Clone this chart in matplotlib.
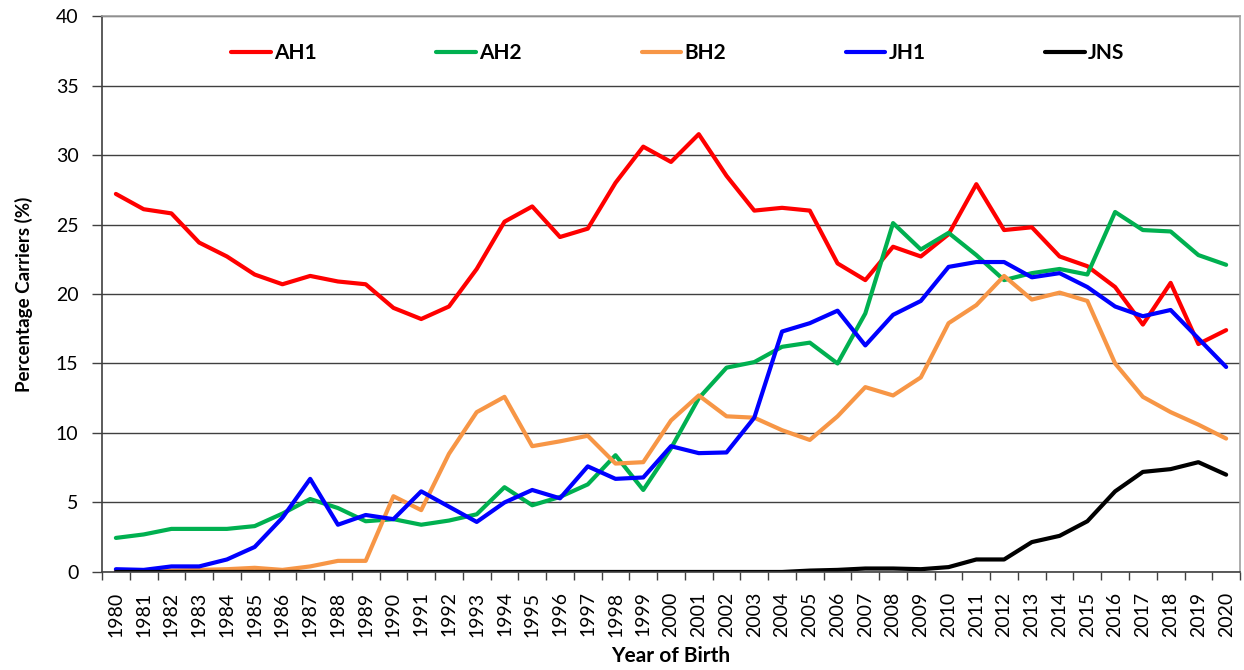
import matplotlib
matplotlib.use("Agg")
import matplotlib.pyplot as plt
import numpy as np

years = list(range(1980, 2021))

ah1 = [27.2, 26.1, 25.8, 23.7, 22.7, 21.4, 20.7, 21.3, 20.9, 20.7,
       19.0, 18.2, 19.1, 21.8, 25.2, 26.3, 24.1, 24.7, 28.0, 30.6,
       29.5, 31.5, 28.5, 26.0, 26.2, 26.0, 22.2, 21.0, 23.4, 22.7,
       24.3, 27.9, 24.6, 24.8, 22.7, 22.0, 20.5, 17.8, 20.8, 16.4,
       17.4]
ah2 = [2.45, 2.7, 3.1, 3.1, 3.1, 3.3, 4.2, 5.25, 4.6, 3.65,
       3.8, 3.4, 3.7, 4.15, 6.1, 4.8, 5.4, 6.3, 8.4, 5.9,
       8.9, 12.5, 14.7, 15.1, 16.2, 16.5, 15.0, 18.6, 25.1, 23.2,
       24.4, 22.8, 21.0, 21.5, 21.8, 21.4, 25.9, 24.6, 24.5, 22.8,
       22.1]
bh2 = [0.1, 0.1, 0.1, 0.15, 0.2, 0.3, 0.15, 0.4, 0.8, 0.8,
       5.45, 4.45, 8.5, 11.5, 12.6, 9.05, 9.4, 9.8, 7.8, 7.9,
       10.9, 12.7, 11.2, 11.1, 10.2, 9.5, 11.2, 13.3, 12.7, 14.0,
       17.9, 19.2, 21.3, 19.6, 20.1, 19.5, 15.0, 12.6, 11.5, 10.6,
       9.6]
jh1 = [0.2, 0.15, 0.4, 0.4, 0.9, 1.8, 3.9, 6.7, 3.4, 4.1,
       3.8, 5.8, 4.7, 3.6, 5.0, 5.9, 5.3, 7.6, 6.7, 6.8,
       9.05, 8.55, 8.6, 11.1, 17.3, 17.9, 18.8, 16.3, 18.5, 19.5,
       21.95, 22.3, 22.3, 21.2, 21.5, 20.5, 19.1, 18.4, 18.85, 16.8,
       14.75]
jns = [0, 0, 0, 0, 0, 0, 0, 0, 0, 0,
       0, 0, 0, 0, 0, 0, 0, 0, 0, 0,
       0, 0, 0, 0, 0.0, 0.1, 0.15, 0.25, 0.25, 0.2,
       0.35, 0.9, 0.9, 2.15, 2.6, 3.65, 5.8, 7.2, 7.4, 7.9,
       7.0]

series = [("AH1", ah1, "#ff0000"), ("AH2", ah2, "#00b050"),
          ("BH2", bh2, "#f79646"), ("JH1", jh1, "#0000ff"),
          ("JNS", jns, "#000000")]

plt.rcParams['font.family'] = ['Lato', 'DejaVu Sans']

fig = plt.figure(figsize=(12.44, 6.70), dpi=100)
ax = fig.add_axes([0.082, 0.1463, 0.9148, 0.8298])

x = np.arange(len(years))
for name, vals, color in series:
    ax.plot(x, vals, color=color, lw=3, label=name, solid_joinstyle='round',
            solid_capstyle='round')

ax.set_xlim(-0.5, len(years) - 0.5)
ax.set_ylim(0, 40)
ax.set_yticks(range(0, 41, 5))
ax.yaxis.grid(True, color='#404040', lw=1)
ax.set_axisbelow(True)

# category axis: labels in the middle, tick marks between categories
ax.set_xticks(x)
ax.set_xticklabels([str(y) for y in years], rotation=90)
ax.set_xticks(np.arange(-0.5, len(years)), minor=True)
ax.tick_params(axis='x', which='major', length=0, pad=14, labelsize=14)
ax.tick_params(axis='x', which='minor', length=6, width=1, color='#404040',
               direction='out')
ax.tick_params(axis='y', length=7, width=1, color='#404040', labelsize=14,
               pad=10)

for side in ['left', 'bottom']:
    ax.spines[side].set_color('#404040')
    ax.spines[side].set_linewidth(1.2)
for side in ['top', 'right']:
    ax.spines[side].set_color('#a0a0a0')
    ax.spines[side].set_linewidth(1.2)

ax.set_xlabel("Year of Birth", fontsize=15, fontweight='bold')
ax.xaxis.set_label_coords(0.5, -0.133)
ax.set_ylabel("Percentage Carriers (%)", fontsize=13.5, fontweight='bold')
ax.yaxis.set_label_coords(-0.061, 0.5)

leg = ax.legend(loc='center', bbox_to_anchor=(0.506, 0.933), ncol=5,
                frameon=False, handlelength=1.9, handletextpad=0.15,
                columnspacing=5.75, prop={'weight': 'bold', 'size': 15})

fig.savefig("out.png", dpi=100)
